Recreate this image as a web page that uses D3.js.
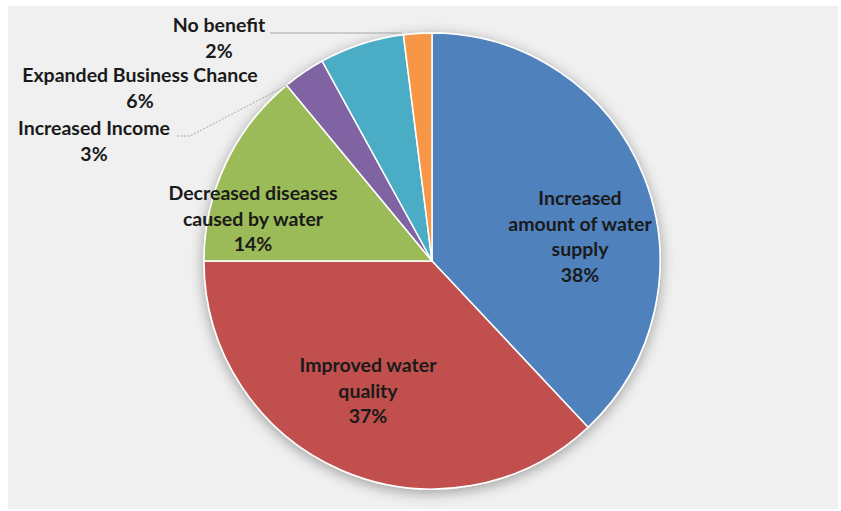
<!DOCTYPE html>
<html>
<head>
<meta charset="utf-8">
<script src="https://cdn.jsdelivr.net/npm/d3@7"></script>
<style>
  html, body { margin: 0; padding: 0; background: #ffffff; }
  svg { display: block; }
</style>
</head>
<body>
<svg id="chart" width="841" height="511"></svg>
<script>
// Reported benefits of the water project (share of respondents, %)
const categories = [
  "Increased amount of water supply",
  "Improved water quality",
  "Decreased diseases caused by water",
  "Increased Income",
  "Expanded Business Chance",
  "No benefit"
];
const values = [38, 37, 14, 3, 6, 2];
const colors = ["#4F81BD", "#C0504D", "#9BBB59", "#8064A2", "#4BACC6", "#F79646"];
// Label text broken into lines as displayed
const labelLines = [
  ["Increased", "amount of water", "supply"],
  ["Improved water", "quality"],
  ["Decreased diseases", "caused by water"],
  ["Increased Income"],
  ["Expanded Business Chance"],
  ["No benefit"]
];

const W = 841, H = 511;
const cx = 432, cy = 261, R = 228;
const svg = d3.select("#chart");

// chart area background
svg.append("rect")
  .attr("x", 8).attr("y", 6).attr("width", 830).attr("height", 503)
  .attr("fill", "#f0f0f0");

const defs = svg.append("defs");
const f = defs.append("filter").attr("id", "shadow")
  .attr("x", "-20%").attr("y", "-20%").attr("width", "140%").attr("height", "140%");
f.append("feGaussianBlur").attr("in", "SourceAlpha").attr("stdDeviation", 7).attr("result", "b");
f.append("feOffset").attr("in", "b").attr("dx", 0).attr("dy", 3).attr("result", "o");
f.append("feComponentTransfer").attr("in", "o").attr("result", "s")
  .append("feFuncA").attr("type", "linear").attr("slope", 0.35);
const m = f.append("feMerge");
m.append("feMergeNode").attr("in", "s");
m.append("feMergeNode").attr("in", "SourceGraphic");

const data = categories.map((c, i) => ({ name: c, value: values[i], color: colors[i], lines: labelLines[i] }));

const pie = d3.pie().value(d => d.value).sort(null);
const arcs = pie(data);
const arc = d3.arc().innerRadius(0).outerRadius(R);

const g = svg.append("g").attr("transform", `translate(${cx},${cy})`);

g.append("g").attr("filter", "url(#shadow)")
  .selectAll("path")
  .data(arcs)
  .join("path")
  .attr("d", arc)
  .attr("fill", d => d.data.color)
  .attr("stroke", "#ffffff")
  .attr("stroke-width", 1.5)
  .attr("stroke-linejoin", "round");

const fontFamily = "Lato, 'Open Sans', 'Liberation Sans', sans-serif";
const lineH = 25.5;

function drawLabel(x, y, lines, pct) {
  const t = svg.append("text")
    .attr("x", x).attr("y", y)
    .attr("text-anchor", "middle")
    .attr("font-family", fontFamily)
    .attr("font-weight", 700)
    .attr("font-size", 19.5)
    .attr("fill", "#1a1a1a");
  const all = lines.concat([pct + "%"]);
  all.forEach((l, i) => {
    t.append("tspan").attr("x", x).attr("dy", i === 0 ? 0 : lineH).text(l);
  });
}

// Labels placed inside the three large slices
const inside = [
  { i: 0, x: 580, y: 205 },
  { i: 1, x: 368, y: 372 },
  { i: 2, x: 253, y: 200 }
];
inside.forEach(p => drawLabel(p.x, p.y, data[p.i].lines, data[p.i].value));

// Outside labels for the small slices
const outside = [
  { i: 5, x: 219, y: 32 },
  { i: 4, x: 140, y: 82 },
  { i: 3, x: 94, y: 135 }
];
outside.forEach(p => drawLabel(p.x, p.y, data[p.i].lines, data[p.i].value));

// Leader lines from outside labels to their slices
const leader = d3.line();
const rim = (ang, r) => [cx + r * Math.sin(ang), cy - r * Math.cos(ang)];
const orangeTop = rim(arcs[5].startAngle + 0.01, R);
svg.append("path")
  .attr("d", leader([[270, 33], [orangeTop[0] - 4, 33]]))
  .attr("fill", "none").attr("stroke", "#a6a6a6").attr("stroke-width", 1);
const purpleEdge = rim(arcs[3].startAngle + 0.02, R - 1);
svg.append("path")
  .attr("d", leader([[177, 136], [190, 136], purpleEdge]))
  .attr("fill", "none").attr("stroke", "#a6a6a6").attr("stroke-width", 1)
  .attr("stroke-dasharray", "2,1.5");
</script>
</body>
</html>
